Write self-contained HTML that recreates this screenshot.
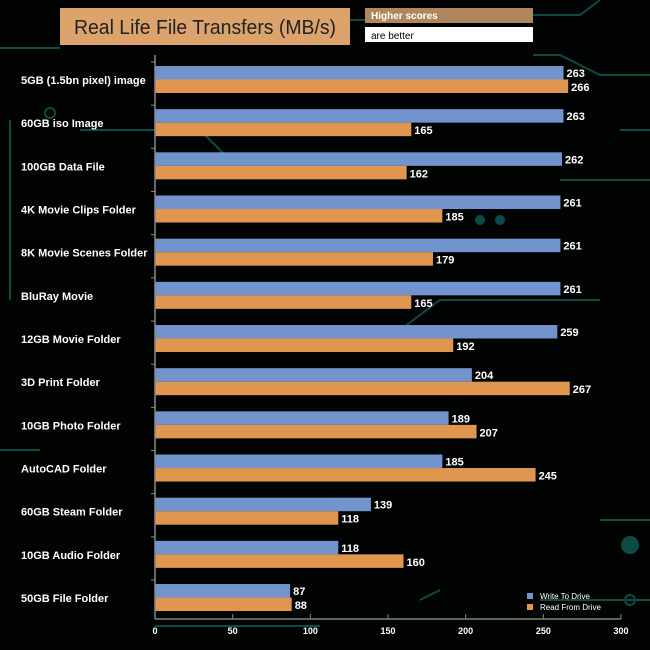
<!DOCTYPE html>
<html><head><meta charset="utf-8"><style>
body{margin:0;background:#000;}
svg{display:block;font-family:"Liberation Sans",Arial,sans-serif;}
</style></head><body>
<svg id="c" width="650" height="650">
<rect width="650" height="650" fill="#020404"/>
<g stroke="#0d4a48" stroke-width="2" fill="none">
<path d="M0 48 H60 M350 20 H365 M533 15 H580 L600 0 M533 55 H560 L600 75 H650"/>
<path d="M10 120 V300 M80 130 H200 L230 160 H330 M620 130 H650 M560 180 H650 M400 330 L440 300 H600"/>
<path d="M0 450 H40 M600 520 H650 M540 600 H650 M155 626 H320 M420 600 L440 590"/>
<circle cx="50" cy="113" r="5"/><circle cx="630" cy="545" r="8" fill="#0d4a48"/><circle cx="630" cy="600" r="5"/>
<circle cx="480" cy="220" r="4" fill="#0d4a48"/><circle cx="500" cy="220" r="4" fill="#0d4a48"/>
</g>
<rect x="60" y="8" width="290" height="37" fill="#dca46c"/>
<text x="205" y="34" font-size="20" text-anchor="middle" fill="#222" textLength="262" lengthAdjust="spacingAndGlyphs">Real Life File Transfers (MB/s)</text>
<rect x="365" y="8" width="168" height="15" fill="#b0865e"/>
<text x="371" y="19" font-size="10" font-weight="bold" fill="#fff">Higher scores</text>
<rect x="365" y="27" width="168" height="15" fill="#fff"/>
<text x="371" y="39" font-size="10" fill="#000">are better</text>
<g id="plot"></g>
</svg>
<script>
const categories=["5GB (1.5bn pixel) image","60GB iso Image","100GB Data File","4K Movie Clips Folder","8K Movie Scenes Folder","BluRay Movie","12GB Movie Folder","3D Print Folder","10GB Photo Folder","AutoCAD Folder","60GB Steam Folder","10GB Audio Folder","50GB File Folder"];
const writeVals=[263,263,262,261,261,261,259,204,189,185,139,118,87];
const readVals=[266,165,162,185,179,165,192,267,207,245,118,160,88];
const xTicks=[0,50,100,150,200,250,300];
const NS="http://www.w3.org/2000/svg";
const g=document.getElementById('plot');
const x0=155,x1=621,xMax=300,plotTop=62,pitch=43.17;
const X=v=>x0+v/xMax*(x1-x0);
const rowY=i=>plotTop+i*pitch;
function mk(t,a,txt){const e=document.createElementNS(NS,t);for(const k in a)e.setAttribute(k,a[k]);if(txt!=null)e.textContent=txt;g.appendChild(e);return e;}
categories.forEach((c,i)=>{
 const y=rowY(i);
 let t=mk('text',{x:21,y:y+22,'font-size':11,'font-weight':'bold',fill:'#fff'},c);
 
 
 let b=mk('rect',{x:x0,y:y+4,width:X(writeVals[i])-x0,height:13.5,fill:'#7294cc'});
 
 
 let o=mk('rect',{x:x0,y:y+17.5,width:X(readVals[i])-x0,height:13.5,fill:'#e0964f'});
 
 
 let l1=mk('text',{x:X(writeVals[i])+3,y:y+15,'font-size':11,'font-weight':'bold',fill:'#fff'},writeVals[i]);
 
 
 let l2=mk('text',{x:X(readVals[i])+3,y:y+29,'font-size':11,'font-weight':'bold',fill:'#fff'},readVals[i]);
 
 
 let tk=mk('line',{x1:x0-4,x2:x0,y1:y,y2:y,stroke:'#888'});
 
 
});
let ya=mk('line',{x1:x0,x2:x0,y1:55,y2:619,stroke:'#888','stroke-width':1.5});


let xa=mk('line',{x1:x0,x2:x1,y1:619,y2:619,stroke:'#7a8a70','stroke-width':1.5});


xTicks.forEach(v=>{
 let tl=mk('line',{x1:X(v),x2:X(v),y1:614,y2:619,stroke:'#7a8a70'});
 
 
 let tt=mk('text',{x:X(v),y:634,'font-size':9,'font-weight':'bold',fill:'#fff','text-anchor':'middle'},v);
 
 
});
let s1=mk('rect',{x:527,y:593,width:6,height:6,fill:'#7294cc'});


let t1=mk('text',{x:540,y:599,'font-size':8,fill:'#fff'},'Write To  Drive');


let s2=mk('rect',{x:527,y:604,width:6,height:6,fill:'#e0964f'});


let t2=mk('text',{x:540,y:610,'font-size':8,fill:'#fff'},'Read From  Drive');


</script>
</body></html>
